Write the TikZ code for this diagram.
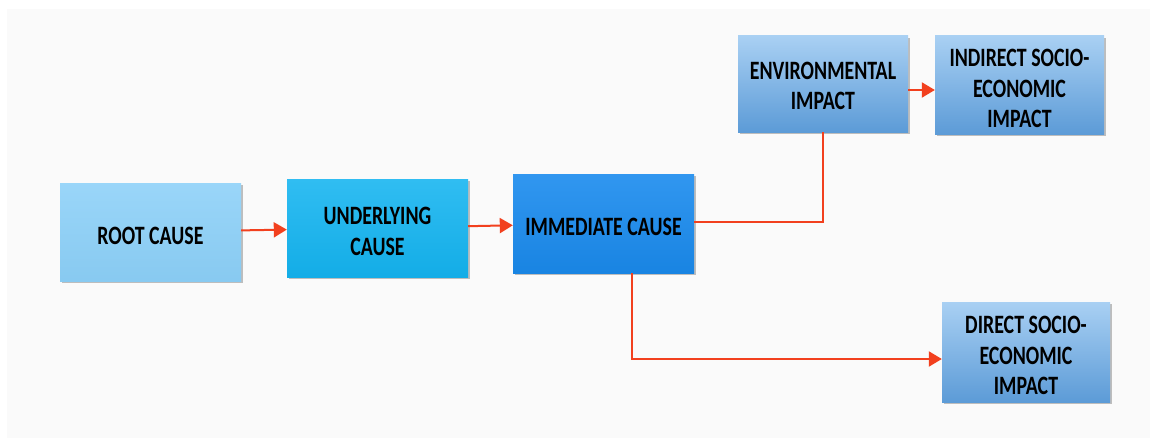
\documentclass[tikz,border=0pt]{standalone}
\usepackage{fontspec}
\setmainfont{Carlito}[FakeStretch=0.75]
\usetikzlibrary{arrows.meta,shadows}
\definecolor{bgc}{HTML}{FAFAFA}
\definecolor{linec}{HTML}{F2401E}
\definecolor{rootc}{HTML}{8CD0F8}
\definecolor{underc}{HTML}{14B4F0}
\definecolor{immc}{HTML}{1A8BEE}
\definecolor{imptop}{HTML}{A9D0F3}
\definecolor{impbot}{HTML}{5C9BD7}
\begin{document}
\begin{tikzpicture}[x=1pt,y=-1pt,
  txt/.style={inner sep=0pt, align=center, yshift=-3.5pt,
    font=\fontsize{26.5}{30.5}\selectfont\bfseries},
  box/.style={inner sep=0pt,
    drop shadow={shadow xshift=1.5pt, shadow yshift=-2pt, opacity=0.35, fill=black!70}},
  rootbox/.style={box, top color=rootc!88!white, bottom color=rootc!97!black},
  underbox/.style={box, top color=underc!88!white, bottom color=underc!96!black},
  immbox/.style={box, top color=immc!90!white, bottom color=immc!95!black},
  impbox/.style={box, top color=imptop, bottom color=impbot},
  conn/.style={draw=linec, line width=2pt},
  arr/.style={conn, -{Triangle[length=13pt,width=15pt]}}
]
\useasboundingbox (0,0) rectangle (1155,444);
\fill[white] (0,0) rectangle (1155,444);
\fill[bgc] (7,9) rectangle (1150,438);

\node[rootbox, minimum width=181pt, minimum height=98pt,
  label={[txt]center:ROOT CAUSE}] (root) at (150.5,232) {};
\node[underbox, minimum width=181pt, minimum height=98pt,
  label={[txt]center:{UNDERLYING\\CAUSE}}] (under) at (377.5,228) {};
\node[immbox, minimum width=181pt, minimum height=99pt,
  label={[txt]center:IMMEDIATE CAUSE}] (imm) at (603.5,223.5) {};
\node[impbox, minimum width=170pt, minimum height=96pt,
  label={[txt, yshift=1.5pt]center:{ENVIRONMENTAL\\IMPACT}}] (env) at (823,84) {};
\node[impbox, minimum width=169pt, minimum height=98pt,
  label={[txt]center:{INDIRECT SOCIO-\\ECONOMIC\\IMPACT}}] (ind) at (1019.5,85) {};
\node[impbox, minimum width=168pt, minimum height=100pt,
  label={[txt]center:{DIRECT SOCIO-\\ECONOMIC\\IMPACT}}] (dir) at (1026,352) {};

\draw[arr] (root) -- (under);
\draw[arr] (under) -- (imm);
\draw[conn] ([yshift=2pt]imm.east) -| (env.south);
\draw[arr] ([yshift=-6pt]env.east) -- ([yshift=-5pt]ind.west);
\draw[arr] ([xshift=28pt]imm.south) |- ([yshift=-7pt]dir.west);
\end{tikzpicture}
\end{document}
